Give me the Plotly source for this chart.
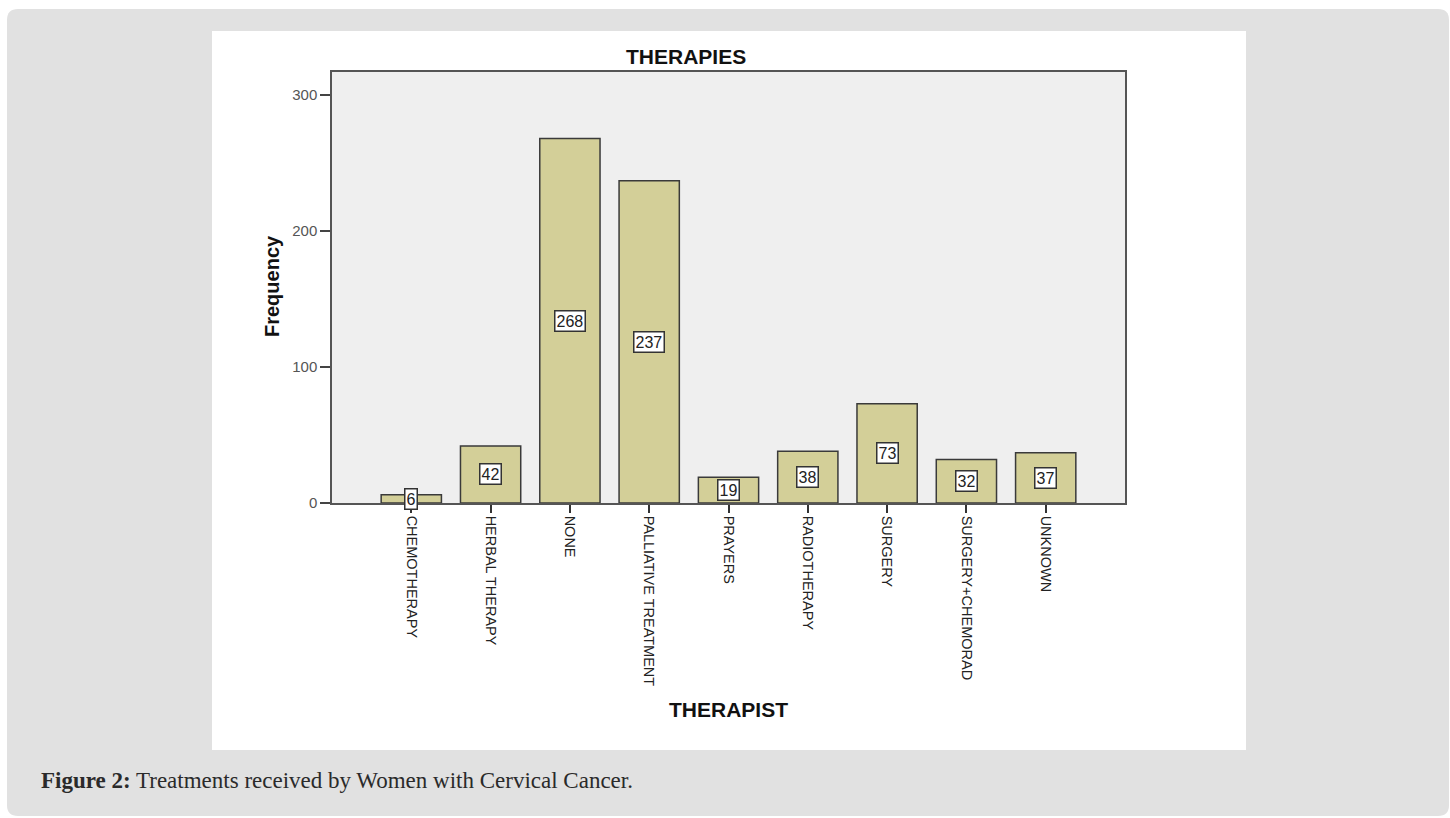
import plotly.graph_objects as go

# Therapy categories and their frequencies
therapies = ["CHEMOTHERAPY", "HERBAL THERAPY", "NONE", "PALLIATIVE TREATMENT",
             "PRAYERS", "RADIOTHERAPY", "SURGERY", "SURGERY+CHEMORAD", "UNKNOWN"]
frequency = [6, 42, 268, 237, 19, 38, 73, 32, 37]
y_ticks = [0, 100, 200, 300]

W, H = 1450, 818
PL, PR, PT, PB = 332, 1125, 72, 503  # plot area in pixels

def px(x):
    return (x - PL) / (PR - PL)

def py(y):
    return (PB - y) / (PB - PT)

SANS = "Liberation Sans, Arial, sans-serif"
positions = list(range(len(therapies)))

fig = go.Figure()
fig.add_trace(go.Bar(
    x=positions, y=frequency, width=0.76,
    marker=dict(color="#d3cf98", line=dict(color="#3a3a3a", width=1.5)),
    hoverinfo="skip",
))

# value boxes at mid-height of each bar
annotations = []
for i, v in enumerate(frequency):
    annotations.append(dict(
        x=i, y=v / 2, xref="x", yref="y", text=str(v), showarrow=False,
        xanchor="center", yanchor="middle",
        font=dict(family=SANS, size=16, color="#222"),
        bgcolor="white", bordercolor="#333", borderwidth=1.5, borderpad=1,
    ))

annotations += [
    dict(x=px(686), y=py(57), xref="paper", yref="paper", text="<b>THERAPIES</b>",
         xanchor="center", yanchor="middle", showarrow=False,
         font=dict(family=SANS, size=21, color="#111")),
    dict(x=px(728), y=py(709), xref="paper", yref="paper", text="<b>THERAPIST</b>",
         xanchor="center", yanchor="middle", showarrow=False,
         font=dict(family=SANS, size=21, color="#111")),
    dict(x=px(272), y=py(286), xref="paper", yref="paper", text="<b>Frequency</b>",
         xanchor="center", yanchor="middle", textangle=-90, showarrow=False,
         font=dict(family=SANS, size=20, color="#111")),
    dict(x=px(39), y=py(780), xref="paper", yref="paper", xanchor="left", yanchor="middle",
         text="<b>Figure 2:</b> Treatments received by Women with Cervical Cancer.",
         showarrow=False,
         font=dict(family="Liberation Serif, Times New Roman, serif", size=23, color="#2a2a2a")),
]

# page card, white chart panel and plot background
r = 11
x0, y0, x1, y1 = 7, 9, 1449, 816
card = (f"M {px(x0)},{py(y0 + r)} Q {px(x0)},{py(y0)} {px(x0 + r)},{py(y0)} "
        f"L {px(x1 - r)},{py(y0)} Q {px(x1)},{py(y0)} {px(x1)},{py(y0 + r)} "
        f"L {px(x1)},{py(y1 - r)} Q {px(x1)},{py(y1)} {px(x1 - r)},{py(y1)} "
        f"L {px(x0 + r)},{py(y1)} Q {px(x0)},{py(y1)} {px(x0)},{py(y1 - r)} Z")
shapes = [
    dict(type="path", path=card, xref="paper", yref="paper", layer="below",
         fillcolor="#e1e1e1", line=dict(width=0)),
    dict(type="rect", x0=px(212), x1=px(1246), y0=py(31), y1=py(750),
         xref="paper", yref="paper", layer="below", fillcolor="white", line=dict(width=0)),
    dict(type="rect", x0=0, x1=1, y0=0, y1=1, xref="paper", yref="paper",
         layer="below", fillcolor="#efefef", line=dict(width=0)),
]

fig.update_layout(
    width=W, height=H,
    margin=dict(l=PL, r=W - PR, t=PT, b=H - PB, autoexpand=False),
    paper_bgcolor="white", plot_bgcolor="rgba(0,0,0,0)",
    showlegend=False,
    annotations=annotations, shapes=shapes,
    xaxis=dict(
        range=[-1, len(therapies)], tickmode="array", tickvals=positions, ticktext=therapies,
        tickangle=90, ticks="outside", ticklen=8, tickwidth=1.5, tickcolor="#333",
        showline=True, linecolor="#555", linewidth=1.5, mirror=True,
        showgrid=False, zeroline=False,
        tickfont=dict(family=SANS, size=14.5, color="#222"),
    ),
    yaxis=dict(
        range=[0, (PB - PT) / 1.36], tickmode="array", tickvals=y_ticks,
        ticks="outside", ticklen=10, tickwidth=1.5, tickcolor="#444",
        showline=True, linecolor="#555", linewidth=1.5, mirror=True,
        showgrid=False, zeroline=False,
        tickfont=dict(family=SANS, size=15, color="#555"),
    ),
)

fig.write_html("out.html")
